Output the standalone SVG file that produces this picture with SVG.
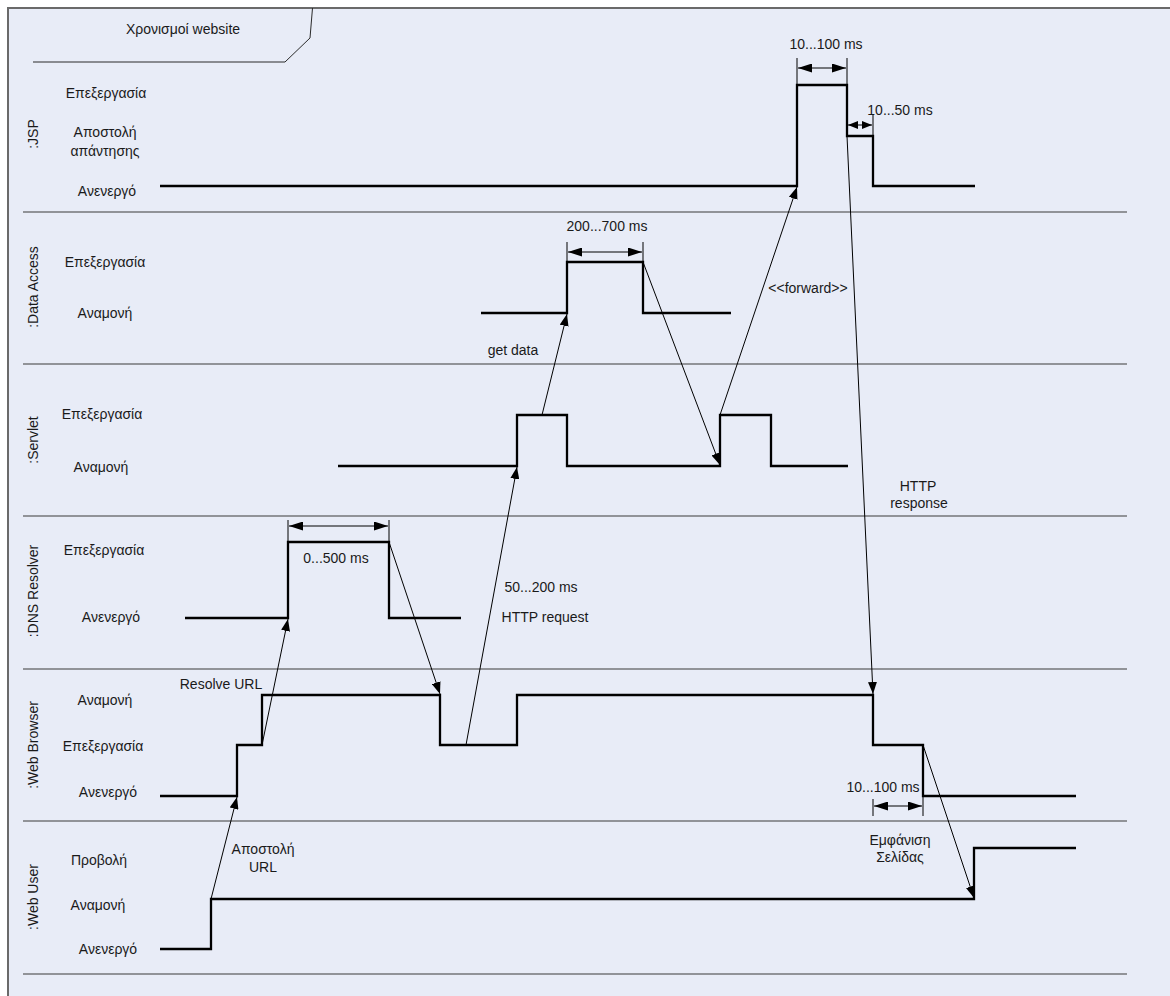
<svg xmlns="http://www.w3.org/2000/svg" width="1170" height="996" viewBox="0 0 1170 996">
  <style>
    text { font-family: "Liberation Sans", Arial, sans-serif; font-size: 14px; fill: #1a1a1a; }
    .c { text-anchor: middle; }
    .lane { font-size: 14px; }
    .sep { stroke: #3a3a3a; stroke-width: 1.2; fill: none; }
    .sig { stroke: #000; stroke-width: 2.3; fill: none; stroke-linejoin: miter; }
    .msg { stroke: #000; stroke-width: 1; fill: none; marker-end: url(#arr); }
    .dim { stroke: #000; stroke-width: 1; fill: none; marker-start: url(#dh); marker-end: url(#dh); }
    .dims { stroke: #000; stroke-width: 1; fill: none; marker-start: url(#dhs); marker-end: url(#dhs); }
    .tick { stroke: #000; stroke-width: 1; }
  </style>
  <defs>
    <marker id="arr" markerUnits="userSpaceOnUse" markerWidth="13" markerHeight="9" refX="12" refY="4.5" orient="auto">
      <path d="M0,0 L12,4.5 L0,9 z" fill="#000"/>
    </marker>
    <marker id="dh" markerUnits="userSpaceOnUse" markerWidth="15" markerHeight="9" refX="14" refY="4.5" orient="auto-start-reverse">
      <path d="M0,0 L14,4.5 L0,9 z" fill="#000"/>
    </marker>
    <marker id="dhs" markerUnits="userSpaceOnUse" markerWidth="11" markerHeight="8" refX="10" refY="4" orient="auto-start-reverse">
      <path d="M0,0 L10,4 L0,8 z" fill="#000"/>
    </marker>
  </defs>

  <rect x="0" y="0" width="1170" height="996" fill="#ffffff"/>
  <!-- frame -->
  <rect x="8" y="8" width="1170" height="1000" fill="#E8ECF7"/>
  <path d="M8,996 V8 H1170" stroke="#6a6a6a" stroke-width="2" fill="none"/>
  <path d="M33,62 H285 L310,38 L312.5,8" stroke="#2a2a2a" stroke-width="1" fill="none"/>
  <text class="c" x="183" y="34">Χρονισμοί website</text>

  <!-- lane separators -->
  <g id="separators">
    <line class="sep" x1="23" y1="212" x2="1127" y2="212"/>
    <line class="sep" x1="23" y1="364" x2="1127" y2="364"/>
    <line class="sep" x1="23" y1="516" x2="1127" y2="516"/>
    <line class="sep" x1="23" y1="669" x2="1127" y2="669"/>
    <line class="sep" x1="23" y1="821" x2="1127" y2="821"/>
    <line class="sep" x1="23" y1="974" x2="1127" y2="974"/>
  </g>

  <g id="jsp">
    <text class="c lane" transform="translate(38,134) rotate(-90)">:JSP</text>
    <text class="c" x="106" y="98">Επεξεργασία</text>
    <text class="c" x="105" y="137">Αποστολή</text>
    <text class="c" x="105" y="156">απάντησης</text>
    <text class="c" x="107" y="196">Ανενεργό</text>
    <path class="sig" d="M160,186 H797 V85 H847 V136 H873 V186 H975"/>
    <line class="tick" x1="797" y1="58" x2="797" y2="85"/>
    <line class="tick" x1="847" y1="58" x2="847" y2="85"/>
    <line class="dim" x1="798" y1="68" x2="846" y2="68"/>
    <text class="c" x="826" y="49">10...100 ms</text>
    <line class="tick" x1="873" y1="114" x2="873" y2="136"/>
    <line class="dims" x1="848" y1="125" x2="872" y2="125"/>
    <text class="c" x="900" y="115">10...50 ms</text>
  </g>

  <g id="data-access">
    <text class="c lane" transform="translate(38,287) rotate(-90)">:Data Access</text>
    <text class="c" x="105" y="267">Επεξεργασία</text>
    <text class="c" x="105" y="318">Αναμονή</text>
    <path class="sig" d="M481,313 H567 V262 H643 V313 H731"/>
    <line class="tick" x1="567" y1="242" x2="567" y2="262"/>
    <line class="tick" x1="643" y1="242" x2="643" y2="262"/>
    <line class="dim" x1="568" y1="252" x2="642" y2="252"/>
    <text class="c" x="607" y="231">200...700 ms</text>
  </g>

  <g id="servlet">
    <text class="c lane" transform="translate(38,440) rotate(-90)">:Servlet</text>
    <text class="c" x="102" y="419">Επεξεργασία</text>
    <text class="c" x="101" y="472">Αναμονή</text>
    <path class="sig" d="M338,466 H517 V415 H567 V466 H720 V415 H771 V466 H848"/>
  </g>

  <g id="dns-resolver">
    <text class="c lane" transform="translate(38,591) rotate(-90)">:DNS Resolver</text>
    <text class="c" x="104" y="555">Επεξεργασία</text>
    <text class="c" x="111" y="622">Ανενεργό</text>
    <path class="sig" d="M185,618 H288 V542 H389 V618 H461"/>
    <line class="tick" x1="288" y1="520" x2="288" y2="542"/>
    <line class="tick" x1="389" y1="520" x2="389" y2="542"/>
    <line class="dim" x1="289" y1="526" x2="388" y2="526"/>
    <text class="c" x="336" y="563">0...500 ms</text>
  </g>

  <g id="web-browser">
    <text class="c lane" transform="translate(38,745) rotate(-90)">:Web Browser</text>
    <text class="c" x="105" y="705">Αναμονή</text>
    <text class="c" x="103" y="751">Επεξεργασία</text>
    <text class="c" x="108" y="797">Ανενεργό</text>
    <path class="sig" d="M160,796 H237 V745 H262 V695 H440 V745 H517 V695 H873 V745 H923 V796 H1076"/>
    <line class="tick" x1="873" y1="799" x2="873" y2="816"/>
    <line class="tick" x1="923" y1="796" x2="923" y2="816"/>
    <line class="dim" x1="874" y1="806" x2="922" y2="806"/>
    <text class="c" x="883" y="792">10...100 ms</text>
  </g>

  <g id="web-user">
    <text class="c lane" transform="translate(38,897) rotate(-90)">:Web User</text>
    <text class="c" x="99" y="865">Προβολή</text>
    <text class="c" x="98" y="910">Αναμονή</text>
    <text class="c" x="108" y="954">Ανενεργό</text>
    <path class="sig" d="M160,949 H211 V899 H974 V848 H1076"/>
  </g>

  <!-- messages between lifelines -->
  <g id="connectors">
    <line class="msg" x1="211" y1="899" x2="237" y2="797"/>
    <line class="msg" x1="262" y1="745" x2="288" y2="619"/>
    <line class="msg" x1="389" y1="542" x2="440" y2="694"/>
    <line class="msg" x1="466" y1="745" x2="517" y2="467"/>
    <line class="msg" x1="542" y1="415" x2="567" y2="314"/>
    <line class="msg" x1="643" y1="262" x2="720" y2="465"/>
    <line class="msg" x1="720" y1="415" x2="797" y2="187"/>
    <line class="msg" x1="847" y1="136" x2="873" y2="694"/>
    <line class="msg" x1="923" y1="745" x2="974" y2="898"/>
  </g>

  <g id="connector-labels">
    <text class="c" x="263" y="854">Αποστολή</text>
    <text class="c" x="263" y="872">URL</text>
    <text class="c" x="221" y="689">Resolve URL</text>
    <text class="c" x="541" y="592">50...200 ms</text>
    <text class="c" x="545" y="622">HTTP request</text>
    <text class="c" x="513" y="355">get data</text>
    <text class="c" x="808" y="293">&lt;&lt;forward&gt;&gt;</text>
    <text class="c" x="918" y="491">HTTP</text>
    <text class="c" x="919" y="508">response</text>
    <text class="c" x="900" y="845">Εμφάνιση</text>
    <text class="c" x="900" y="862">Σελίδας</text>
  </g>
</svg>
